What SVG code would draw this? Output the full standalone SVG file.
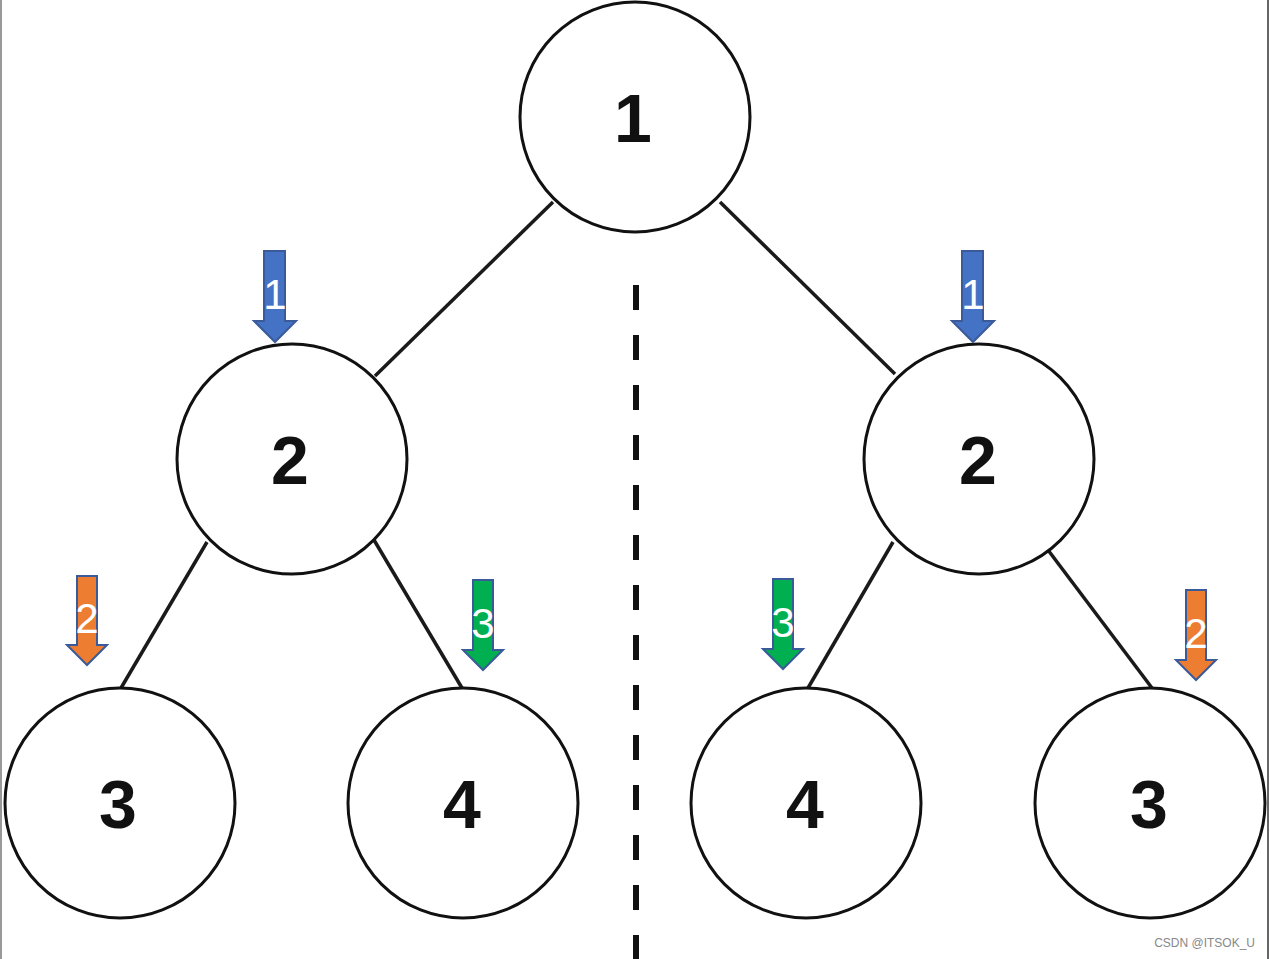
<svg xmlns="http://www.w3.org/2000/svg" width="1270" height="959" viewBox="0 0 1270 959">
<style>
.node circle{fill:#fff;stroke:#111;stroke-width:3}
.node text{font-family:"Liberation Sans",Arial,sans-serif;font-size:68px;font-weight:bold;fill:#111;text-anchor:middle;dominant-baseline:central}
.edge{stroke:#1a1a1a;stroke-width:3.5;fill:none}
.arrow polygon{stroke:#3a5a9a;stroke-width:2}
.arrow text{font-family:"Liberation Sans",Arial,sans-serif;font-size:42px;fill:#fff;text-anchor:middle}
.blue{fill:#4472c4}
.orange{fill:#ed7d31}
.green{fill:#00b050}
</style>
<rect width="1270" height="959" fill="#fff"/>
<line x1="1" y1="0" x2="1" y2="959" stroke="#999" stroke-width="2"/>
<line x1="1268" y1="0" x2="1268" y2="959" stroke="#666" stroke-width="2"/>
<g id="connectors">
<line class="edge" x1="553" y1="202" x2="375" y2="376"/>
<line class="edge" x1="720" y1="202" x2="895" y2="374"/>
<line class="edge" x1="207" y1="542" x2="121" y2="688"/>
<line class="edge" x1="374" y1="540" x2="462" y2="688"/>
<line class="edge" x1="893" y1="542" x2="808" y2="688"/>
<line class="edge" x1="1048" y1="550" x2="1152" y2="688"/>
<line x1="636" y1="285" x2="636" y2="959" stroke="#111" stroke-width="6" stroke-dasharray="25 25"/>
</g>
<g id="n1" class="node"><circle cx="635" cy="117" r="115"/><text x="633" y="118">1</text></g>
<g id="n2L" class="node"><circle cx="292" cy="459" r="115"/><text x="290" y="460">2</text></g>
<g id="n2R" class="node"><circle cx="979" cy="459" r="115"/><text x="978" y="460">2</text></g>
<g id="n3L" class="node"><circle cx="120" cy="803" r="115"/><text x="118" y="804">3</text></g>
<g id="n4L" class="node"><circle cx="463" cy="803" r="115"/><text x="462" y="804">4</text></g>
<g id="n4R" class="node"><circle cx="806" cy="803" r="115"/><text x="805" y="804">4</text></g>
<g id="n3R" class="node"><circle cx="1150" cy="803" r="115"/><text x="1149" y="804">3</text></g>
<g id="a1L" class="arrow"><polygon class="blue" points="264,251 285,251 285,321 296,321 275,342 254,321 264,321"/><text x="275" y="309">1</text></g>
<g id="a1R" class="arrow"><polygon class="blue" points="962,251 983,251 983,321 994,321 973,342 952,321 962,321"/><text x="973" y="309">1</text></g>
<g id="a2L" class="arrow"><polygon class="orange" points="77,576 97,576 97,645 107,645 87,665 67,645 77,645"/><text x="87" y="633">2</text></g>
<g id="a3L" class="arrow"><polygon class="green" points="473,580 493,580 493,650 503,650 483,670 463,650 473,650"/><text x="483" y="638">3</text></g>
<g id="a3R" class="arrow"><polygon class="green" points="773,579 793,579 793,649 803,649 783,669 763,649 773,649"/><text x="783" y="637">3</text></g>
<g id="a2R" class="arrow"><polygon class="orange" points="1186,590 1206,590 1206,660 1216,660 1196,680 1176,660 1186,660"/><text x="1196" y="648">2</text></g>
<text x="1255" y="947" font-family="Liberation Sans,Arial,sans-serif" font-size="12" fill="#888" text-anchor="end">CSDN @ITSOK_U</text>
</svg>
